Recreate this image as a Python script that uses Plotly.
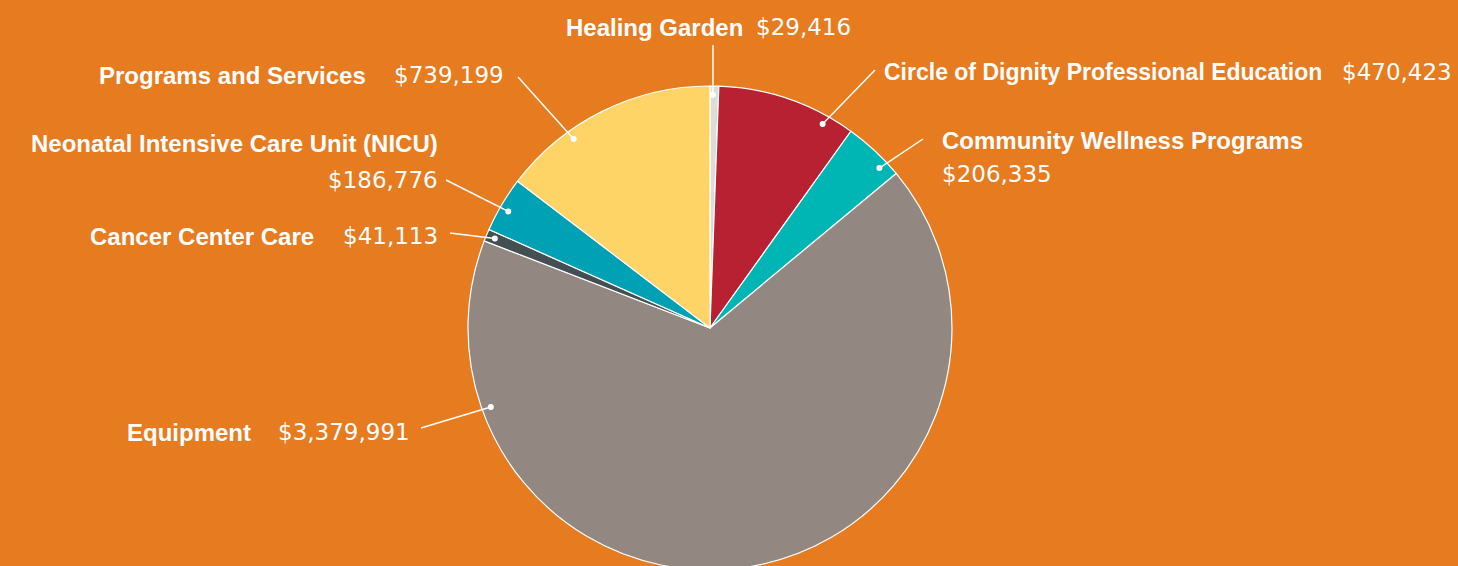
import math
import plotly.graph_objects as go

# ---- data ----
categories = ["Healing Garden", "Circle of Dignity Professional Education",
              "Community Wellness Programs", "Equipment", "Cancer Center Care",
              "Neonatal Intensive Care Unit (NICU)", "Programs and Services"]
amounts = [29416, 470423, 206335, 3379991, 41113, 186776, 739199]
value_labels = ["$29,416", "$470,423", "$206,335", "$3,379,991", "$41,113",
                "$186,776", "$739,199"]
colors = ["#DEDCD7", "#B72131", "#00B6B5", "#938881", "#444F54", "#00A0B5", "#FED466"]

# ---- layout ----
W, H = 1458, 576                    # slightly taller than window so the pie bleeds off the bottom
BG = "#E77B1F"
CX, CY, R = 710, 328, 242           # pie centre/radius in pixels
DOT_R = 233
dot_frac = [0.35, 0.80, 0.75, 0.83, 0.5, 0.45, 0.32]
line_end = [(None, 45), (875, 70), (923, 139), (421, 428), (450, 233), (446, 180), (518, 77)]

BOLD = "Liberation Sans, Arial, sans-serif"
LIGHT = "DejaVu Sans ExtraLight, DejaVu Sans, sans-serif"
FS_B = 24
FS_V = 23

fig = go.Figure()

fig.add_trace(go.Pie(
    labels=categories, values=amounts, sort=False, direction="clockwise",
    rotation=0, textinfo="none", hoverinfo="label+value",
    marker=dict(colors=colors, line=dict(color="white", width=1.2)),
    domain=dict(x=[(CX - R) / W, (CX + R) / W], y=[(H - CY - R) / H, (H - CY + R) / H]),
    showlegend=False,
))

shapes = []
total = sum(amounts)
cum = 0
for i, v in enumerate(amounts):
    a0 = cum / total * 360
    a1 = (cum + v) / total * 360
    cum += v
    ang = math.radians(a0 + dot_frac[i] * (a1 - a0))
    dx = CX + DOT_R * math.sin(ang)
    dy = CY - DOT_R * math.cos(ang)
    ex, ey = line_end[i]
    if ex is None:
        ex = dx
    shapes.append(dict(type="line", xref="x", yref="y", x0=ex, y0=ey, x1=dx, y1=dy,
                       line=dict(color="white", width=1.5), layer="above"))
    shapes.append(dict(type="circle", xref="x", yref="y", x0=dx - 3, x1=dx + 3,
                       y0=dy - 3, y1=dy + 3, fillcolor="white",
                       line=dict(width=0), layer="above"))

def ann(x, y, text, anchor, bold, size=None):
    fig.add_annotation(x=x, y=y, xref="x", yref="y",
                       text=f"<b>{text}</b>" if bold else text, showarrow=False,
                       xanchor=anchor, yanchor="middle",
                       font=dict(family=BOLD if bold else LIGHT,
                                 size=size or (FS_B if bold else FS_V), color="white"))

# Healing Garden
ann(745, 27, categories[0], "right", True)
ann(754, 27, value_labels[0], "left", False)
# Circle of Dignity
ann(882, 72, categories[1], "left", True, 23)
ann(1454, 72, value_labels[1], "right", False)
# Community Wellness
ann(940, 140, categories[2], "left", True)
ann(940, 174, value_labels[2], "left", False)
# Equipment
ann(253, 432, categories[3], "right", True)
ann(412, 432, value_labels[3], "right", False)
# Cancer Center Care
ann(316, 236, categories[4], "right", True)
ann(440, 236, value_labels[4], "right", False)
# NICU
ann(440, 143, categories[5], "right", True)
ann(440, 180, value_labels[5], "right", False)
# Programs and Services
ann(368, 75, categories[6], "right", True)
ann(506, 75, value_labels[6], "right", False)

fig.update_layout(
    width=W, height=H, margin=dict(l=0, r=0, t=0, b=0),
    paper_bgcolor=BG, plot_bgcolor="rgba(0,0,0,0)",
    xaxis=dict(range=[0, W], visible=False, fixedrange=True),
    yaxis=dict(range=[H, 0], visible=False, fixedrange=True),
    shapes=shapes, showlegend=False,
)

fig.write_html("out.html", config={"displayModeBar": False},
               post_script="document.body.style.margin='0';document.body.style.overflow='hidden';"
                           "document.body.style.background='" + BG + "';")
